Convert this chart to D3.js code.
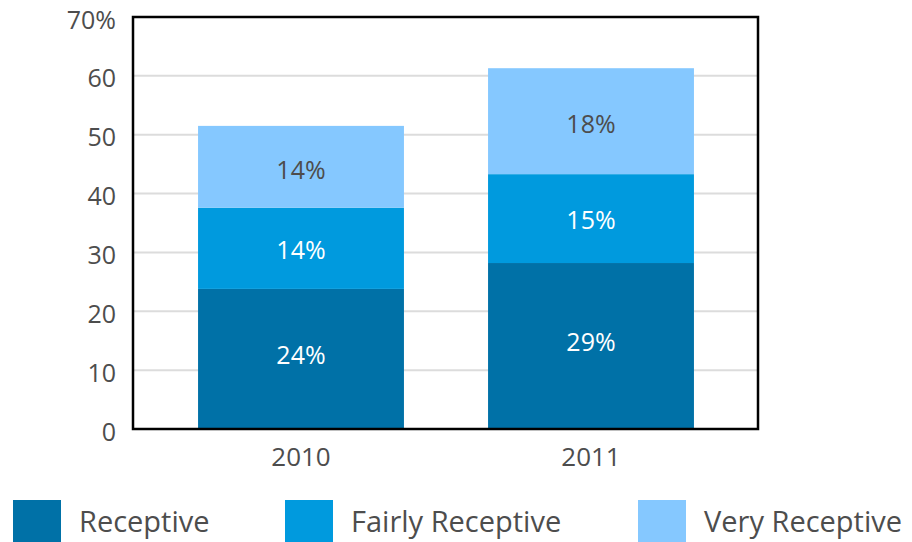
<!DOCTYPE html>
<html>
<head>
<meta charset="utf-8">
<script src="https://cdn.jsdelivr.net/npm/d3@7"></script>
<style>
  body { margin: 0; background: #fff; }
  text { font-family: "Open Sans", "Noto Sans", sans-serif; }
</style>
</head>
<body>
<div id="wrapper"></div>
<script>
// data
const years = ["2010", "2011"];
const seriesNames = ["Receptive", "Fairly Receptive", "Very Receptive"];
const receptive = [23.8, 28.2];
const fairlyReceptive = [13.8, 15.1];
const veryReceptive = [13.9, 18.0];
const receptiveLabels = ["24%", "29%"];
const fairlyLabels = ["14%", "15%"];
const veryLabels = ["14%", "18%"];
const yTicks = [0, 10, 20, 30, 40, 50, 60, 70];
const colors = ["#0071a7", "#009ade", "#85c8ff"];
const labelColors = ["#ffffff", "#ffffff", "#4d4d4d"];

function drawChart() {
  const series = [receptive, fairlyReceptive, veryReceptive];
  const labels = [receptiveLabels, fairlyLabels, veryLabels];
  const labelShift = [-4, 2, 3];

  const rows = years.map((year, i) => {
    const row = { year: year };
    seriesNames.forEach((s, j) => { row[s] = series[j][i]; });
    return row;
  });

  const dimensions = {
    width: 912,
    height: 542,
    frame: { left: 133, right: 758, top: 17, bottom: 429 },
  };

  const svg = d3.select("#wrapper")
    .append("svg")
    .attr("width", dimensions.width)
    .attr("height", dimensions.height);

  const yScale = d3.scaleLinear()
    .domain([0, 70])
    .range([dimensions.frame.bottom, dimensions.frame.top]);

  const xScale = d3.scaleBand()
    .domain(years)
    .range([156, 736])
    .paddingInner(0.29)
    .paddingOuter(0.145);

  // gridlines
  svg.append("g")
    .selectAll("line")
    .data(yTicks.filter((d) => d > 0 && d < 70))
    .enter().append("line")
      .attr("x1", dimensions.frame.left)
      .attr("x2", dimensions.frame.right)
      .attr("y1", (d) => yScale(d))
      .attr("y2", (d) => yScale(d))
      .attr("stroke", "#dcdcdc")
      .attr("stroke-width", 2);

  // stacked bars
  const stacked = d3.stack().keys(seriesNames)(rows);

  const layers = svg.append("g")
    .selectAll("g")
    .data(stacked)
    .enter().append("g")
      .attr("fill", (d, i) => colors[i]);

  layers.selectAll("rect")
    .data((d) => d)
    .enter().append("rect")
      .attr("x", (d) => xScale(d.data.year))
      .attr("y", (d) => yScale(d[1]))
      .attr("width", xScale.bandwidth())
      .attr("height", (d) => yScale(d[0]) - yScale(d[1]));

  // labels inside the segments
  stacked.forEach((layer, j) => {
    svg.append("g")
      .selectAll("text")
      .data(layer)
      .enter().append("text")
        .attr("x", (d) => xScale(d.data.year) + xScale.bandwidth() / 2)
        .attr("y", (d) => (yScale(d[0]) + yScale(d[1])) / 2 + labelShift[j])
        .attr("dy", "0.35em")
        .attr("text-anchor", "middle")
        .attr("font-size", 25)
        .attr("fill", labelColors[j])
        .text((d, i) => labels[j][i]);
  });

  // frame
  svg.append("rect")
    .attr("x", dimensions.frame.left)
    .attr("y", dimensions.frame.top)
    .attr("width", dimensions.frame.right - dimensions.frame.left)
    .attr("height", dimensions.frame.bottom - dimensions.frame.top)
    .attr("fill", "none")
    .attr("stroke", "#000")
    .attr("stroke-width", 2.5);

  // y axis
  const yAxisGenerator = d3.axisLeft(yScale)
    .tickValues(yTicks)
    .tickSize(0)
    .tickPadding(0)
    .tickFormat((d) => d == 70 ? d + "%" : d);

  const yAxis = svg.append("g")
    .attr("transform", `translate(116, 3)`)
    .call(yAxisGenerator);
  yAxis.select(".domain").remove();
  yAxis.selectAll("text")
    .attr("font-size", 25)
    .attr("fill", "#4d4d4d")
    .style("font-family", "'Open Sans', sans-serif");

  // x axis
  const xAxisGenerator = d3.axisBottom(xScale)
    .tickSize(0)
    .tickPadding(0);

  const xAxis = svg.append("g")
    .attr("transform", `translate(0, 448)`)
    .call(xAxisGenerator);
  xAxis.select(".domain").remove();
  xAxis.selectAll("text")
    .attr("font-size", 26)
    .attr("fill", "#4d4d4d")
    .style("font-family", "'Open Sans', sans-serif");

  // legend
  const legendX = [13, 285, 638];
  const legend = svg.append("g")
    .selectAll("g")
    .data(seriesNames)
    .enter().append("g")
      .attr("transform", (d, i) => `translate(${legendX[i]}, 500)`);

  legend.append("rect")
    .attr("width", 48)
    .attr("height", 42)
    .attr("fill", (d, i) => colors[i]);

  legend.append("text")
    .attr("x", 66)
    .attr("y", 32)
    .attr("font-size", 29)
    .attr("fill", "#4d4d4d")
    .text((d) => d);
}

drawChart();
</script>
</body>
</html>
